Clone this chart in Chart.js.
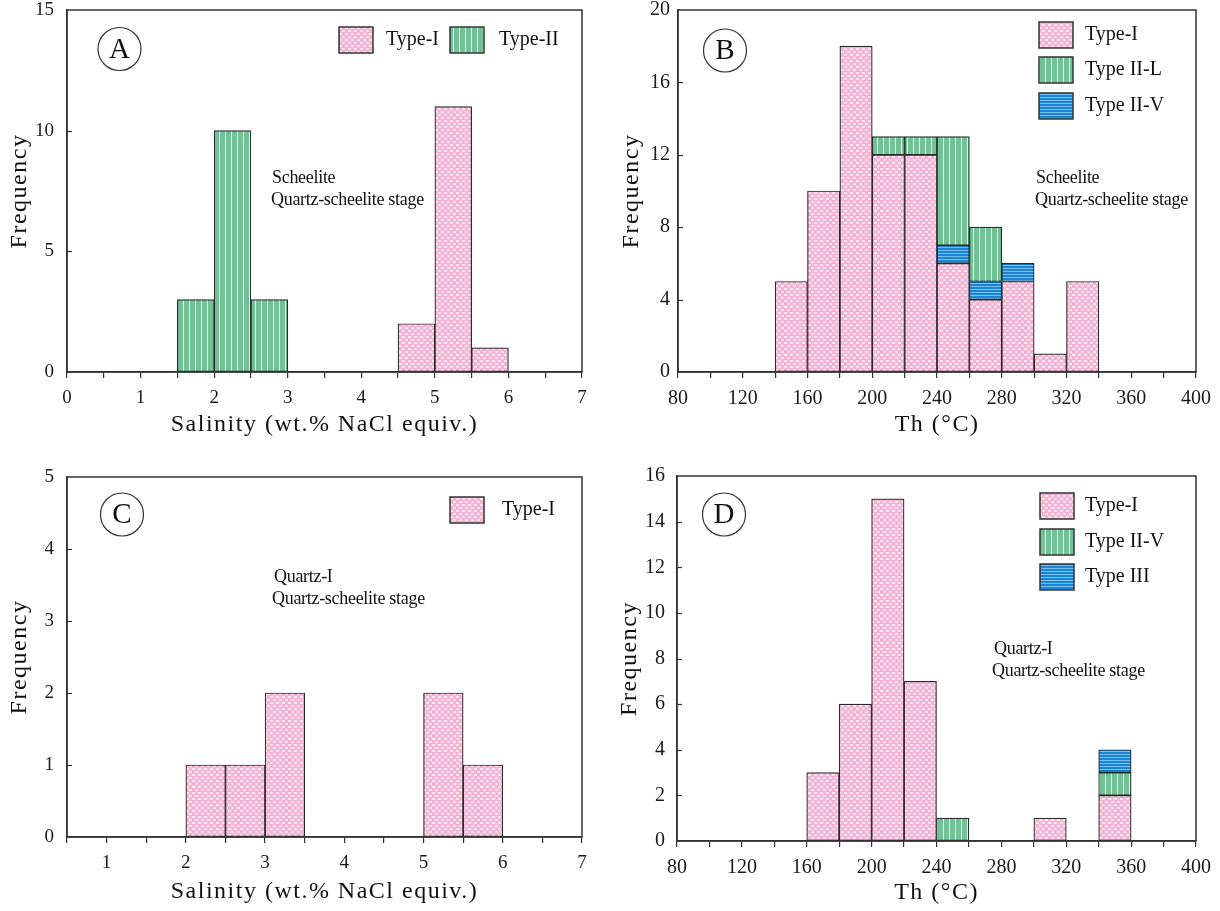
<!DOCTYPE html>
<html>
<head>
<meta charset="utf-8">
<script src="https://cdn.jsdelivr.net/npm/chart.js@4"></script>
<style>
  html, body { margin: 0; padding: 0; background: #ffffff; }
  #wrap { position: relative; width: 1220px; height: 911px; overflow: hidden; }
  canvas { position: absolute; }
</style>
</head>
<body>
<div id="wrap">
  <canvas id="cA" width="610" height="450" style="left:0;top:0"></canvas>
  <canvas id="cB" width="610" height="450" style="left:610px;top:0"></canvas>
  <canvas id="cC" width="610" height="461" style="left:0;top:450px"></canvas>
  <canvas id="cD" width="610" height="461" style="left:610px;top:450px"></canvas>
</div>
<script>
// ---------------- DATA ----------------
// Panel A: salinity, scheelite (bin starts, width 0.5 wt.%)
const binsA = [1.5, 2.0, 2.5, 4.5, 5.0, 5.5];
const typeI_A = [0, 0, 0, 2, 11, 1];
const typeII_A = [3, 10, 3, 0, 0, 0];

// Panel B: Th, scheelite (bin starts, width 20 °C)
const binsB = [140, 160, 180, 200, 220, 240, 260, 280, 300, 320];
const typeI_B = [5, 10, 18, 12, 12, 6, 4, 5, 1, 5];
const typeIIV_B = [0, 0, 0, 0, 0, 1, 1, 1, 0, 0];
const typeIIL_B = [0, 0, 0, 1, 1, 6, 3, 0, 0, 0];

// Panel C: salinity, quartz-I
const binsC = [2.0, 2.5, 3.0, 5.0, 5.5];
const typeI_C = [1, 1, 2, 2, 1];

// Panel D: Th, quartz-I
const binsD = [160, 180, 200, 220, 240, 300, 340];
const typeI_D = [3, 6, 15, 7, 0, 1, 2];
const typeIIV_D = [0, 0, 0, 0, 1, 0, 1];
const typeIII_D = [0, 0, 0, 0, 0, 0, 1];

const salBinWidth = 0.5;
const thBinWidth = 20;

const salTicks = { stepSize: 0.5, labelEvery: 1 };
const thTicks = { stepSize: 20, labelEvery: 40 };

// ---------------- STYLE ----------------
const SERIF = '"Liberation Serif", "Times New Roman", serif';
const INK = '#2a2a2a';

function makePattern(kind) {
  const c = document.createElement('canvas');
  const g = c.getContext('2d');
  if (kind === 'pink') {
    c.width = 6; c.height = 6;
    g.fillStyle = '#f4b3d2'; g.fillRect(0, 0, 6, 6);
    g.fillStyle = '#fde5f1';
    g.fillRect(0, 0, 3, 2); g.fillRect(3, 3, 3, 2);
  } else if (kind === 'green') {
    c.width = 6; c.height = 6;
    g.fillStyle = '#73c197'; g.fillRect(0, 0, 6, 6);
    g.fillStyle = '#e6f4ec'; g.fillRect(3, 0, 1, 6);
  } else {
    c.width = 3; c.height = 3;
    g.fillStyle = '#1b86d6'; g.fillRect(0, 0, 3, 3);
    g.fillStyle = '#74bff0'; g.fillRect(0, 1, 3, 1);
  }
  const ref = document.createElement('canvas').getContext('2d');
  return ref.createPattern(c, 'repeat');
}
const PINK = makePattern('pink');
const GREEN = makePattern('green');
const BLUE = makePattern('blue');

function series(bins, counts, width) {
  return bins.map((b, i) => ({ x: b + width / 2, y: counts[i] ? counts[i] : null }));
}

function ds(label, bins, counts, width, fill) {
  return {
    label: label,
    data: series(bins, counts, width),
    backgroundColor: fill,
    borderColor: INK,
    borderWidth: 1.2,
    borderSkipped: false,
    barPercentage: 1,
    categoryPercentage: 1
  };
}

// ---------------- DECORATION PLUGIN ----------------
const decor = {
  id: 'decor',
  afterDatasetsDraw(chart, args, o) {
    const ctx = chart.ctx;
    const a = chart.chartArea;
    const ys = chart.scales.y;
    ctx.save();
    // frame
    ctx.strokeStyle = '#333';
    ctx.lineWidth = 1.5;
    ctx.strokeRect(a.left, a.top, a.right - a.left, a.bottom - a.top);
    // inward y ticks
    ctx.lineWidth = 1.2;
    ys.ticks.forEach(t => {
      if (t.value > ys.min && t.value < ys.max) {
        const py = Math.round(ys.getPixelForValue(t.value)) + 0.5;
        ctx.beginPath(); ctx.moveTo(a.left, py); ctx.lineTo(a.left + 5, py); ctx.stroke();
      }
    });
    // panel letter
    ctx.beginPath();
    ctx.ellipse(o.letter.x, o.letter.y, 21.5, 21.5, 0, 0, Math.PI * 2);
    ctx.strokeStyle = '#333'; ctx.lineWidth = 1.2; ctx.stroke();
    ctx.fillStyle = '#111';
    ctx.font = '29px ' + SERIF;
    ctx.textAlign = 'center'; ctx.textBaseline = 'middle';
    ctx.fillText(o.letter.text, o.letter.x, o.letter.y + 1);
    // legend
    ctx.textAlign = 'left';
    ctx.font = '20px ' + SERIF;
    o.legend.forEach(it => {
      ctx.fillStyle = it.fill;
      ctx.fillRect(it.x, it.y, 34, 26);
      ctx.strokeStyle = '#333'; ctx.lineWidth = 1.5;
      ctx.strokeRect(it.x, it.y, 34, 26);
      ctx.fillStyle = '#111';
      ctx.fillText(it.text, it.tx, it.y + 13);
    });
    // annotation
    ctx.font = '18px ' + SERIF;
    ctx.letterSpacing = '-0.3px';
    o.notes.forEach(n => ctx.fillText(n.text, n.x, n.y));
    // axis titles
    ctx.font = '24px ' + SERIF;
    ctx.letterSpacing = '1.5px';
    ctx.textAlign = 'center';
    ctx.fillText(o.xTitle, (a.left + a.right) / 2, o.xTitleY);
    ctx.translate(o.yTitleX, (a.top + a.bottom) / 2);
    ctx.rotate(-Math.PI / 2);
    ctx.fillText('Frequency', 0, 0);
    ctx.restore();
  }
};

function makeChart(id, datasets, cfg) {
  const yW = cfg.yWidth, xH = cfg.xHeight;
  new Chart(document.getElementById(id), {
    type: 'bar',
    data: { datasets: datasets },
    plugins: [decor],
    options: {
      responsive: false,
      animation: false,
      events: [],
      layout: { padding: { left: 0, top: cfg.top, right: cfg.right, bottom: 0 } },
      plugins: {
        legend: { display: false },
        tooltip: { enabled: false },
        decor: cfg.decor
      },
      scales: {
        x: {
          type: 'linear',
          stacked: true,
          offset: false,
          min: cfg.xMin, max: cfg.xMax,
          grid: { offset: false, drawOnChartArea: false, drawTicks: true, tickLength: 6, color: '#333', lineWidth: 1.2 },
          border: { display: true, color: '#333', width: 1.5 },
          ticks: {
            stepSize: cfg.ticks.stepSize,
            autoSkip: false, maxRotation: 0, minRotation: 0,
            padding: 9,
            color: '#1a1a1a',
            font: { family: SERIF, size: cfg.fontSize },
            callback: (v) => (Math.abs(v / cfg.ticks.labelEvery - Math.round(v / cfg.ticks.labelEvery)) < 1e-6 ? String(Math.round(v)) : '')
          },
          afterFit: (s) => { s.height = xH; s.paddingLeft = 0; s.paddingRight = 0; }
        },
        y: {
          stacked: true,
          min: 0, max: cfg.yMax,
          grid: { drawOnChartArea: false, drawTicks: false },
          border: { display: true, color: '#333', width: 1.5 },
          ticks: {
            stepSize: cfg.yStep,
            padding: cfg.yPad,
            color: '#1a1a1a',
            font: { family: SERIF, size: cfg.fontSize }
          },
          afterFit: (s) => { s.width = yW; s.paddingTop = 0; s.paddingBottom = 0; }
        }
      }
    }
  });
}

const salTitle = 'Salinity (wt.% NaCl equiv.)';
const thTitle = 'Th (°C)';

// Panel A
makeChart('cA', [
  ds('Type-I', binsA, typeI_A, salBinWidth, PINK),
  ds('Type-II', binsA, typeII_A, salBinWidth, GREEN)
], {
  yWidth: 67, xHeight: 78, top: 10, right: 28, fontSize: 19, yPad: 13,
  xMin: 0, xMax: 7, ticks: salTicks, yMax: 15, yStep: 5,
  decor: {
    letter: { text: 'A', x: 119.5, y: 49 },
    legend: [
      { fill: PINK, x: 339, y: 27, text: 'Type-I', tx: 386 },
      { fill: GREEN, x: 450, y: 27, text: 'Type-II', tx: 499 }
    ],
    notes: [
      { text: 'Scheelite', x: 272, y: 178 },
      { text: 'Quartz-scheelite stage', x: 271, y: 200 }
    ],
    xTitle: salTitle, xTitleY: 425, yTitleX: 20
  }
});

// Panel B
makeChart('cB', [
  ds('Type-I', binsB, typeI_B, thBinWidth, PINK),
  ds('Type II-V', binsB, typeIIV_B, thBinWidth, BLUE),
  ds('Type II-L', binsB, typeIIL_B, thBinWidth, GREEN)
], {
  yWidth: 68, xHeight: 78, top: 10, right: 24, fontSize: 20, yPad: 8,
  xMin: 80, xMax: 400, ticks: thTicks, yMax: 20, yStep: 4,
  decor: {
    letter: { text: 'B', x: 115, y: 50.5 },
    legend: [
      { fill: PINK, x: 429, y: 22, text: 'Type-I', tx: 475 },
      { fill: GREEN, x: 429, y: 57, text: 'Type II-L', tx: 475 },
      { fill: BLUE, x: 429, y: 93, text: 'Type II-V', tx: 475 }
    ],
    notes: [
      { text: 'Scheelite', x: 426, y: 178 },
      { text: 'Quartz-scheelite stage', x: 425, y: 200 }
    ],
    xTitle: thTitle, xTitleY: 425, yTitleX: 22
  }
});

// Panel C
makeChart('cC', [
  ds('Type-I', binsC, typeI_C, salBinWidth, PINK)
], {
  yWidth: 67, xHeight: 74, top: 27, right: 28, fontSize: 19, yPad: 13,
  xMin: 0.5, xMax: 7, ticks: salTicks, yMax: 5, yStep: 1,
  decor: {
    letter: { text: 'C', x: 122, y: 64.5 },
    legend: [
      { fill: PINK, x: 450, y: 47, text: 'Type-I', tx: 502 }
    ],
    notes: [
      { text: 'Quartz-I', x: 274, y: 127 },
      { text: 'Quartz-scheelite stage', x: 272, y: 149 }
    ],
    xTitle: salTitle, xTitleY: 442, yTitleX: 20
  }
});

// Panel D
makeChart('cD', [
  ds('Type-I', binsD, typeI_D, thBinWidth, PINK),
  ds('Type II-V', binsD, typeIIV_D, thBinWidth, GREEN),
  ds('Type III', binsD, typeIII_D, thBinWidth, BLUE)
], {
  yWidth: 67, xHeight: 70, top: 26, right: 24, fontSize: 20, yPad: 12,
  xMin: 80, xMax: 400, ticks: thTicks, yMax: 16, yStep: 2,
  decor: {
    letter: { text: 'D', x: 114, y: 64.5 },
    legend: [
      { fill: PINK, x: 430, y: 43, text: 'Type-I', tx: 475 },
      { fill: GREEN, x: 430, y: 79, text: 'Type II-V', tx: 475 },
      { fill: BLUE, x: 430, y: 114, text: 'Type III', tx: 475 }
    ],
    notes: [
      { text: 'Quartz-I', x: 384, y: 199 },
      { text: 'Quartz-scheelite stage', x: 382, y: 221 }
    ],
    xTitle: thTitle, xTitleY: 443, yTitleX: 20
  }
});
</script>
</body>
</html>
